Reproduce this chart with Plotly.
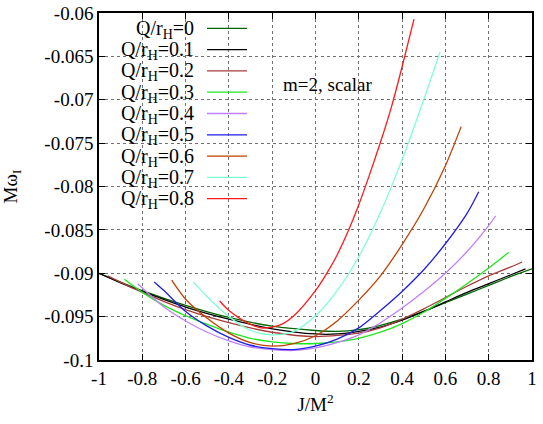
import plotly.graph_objects as go

# ---- data ----
labels = ["0", "0.1", "0.2", "0.3", "0.4", "0.5", "0.6", "0.7", "0.8"]
colors = ["#006400", "#000000", "#a83c3c", "#1ee61e", "#c080ff",
          "#1e1ee6", "#c04000", "#7fffd4", "#ff1a1a"]

x_q00 = [-1, -0.8, -0.6, -0.4, -0.2, 0, 0.1, 0.2, 0.3, 0.4, 0.5, 0.6, 0.7, 0.8, 0.9, 1.0]
y_q00 = [-0.0900, -0.0920, -0.0937, -0.0951, -0.0961, -0.0966, -0.0967, -0.0965, -0.0960, -0.0953,
         -0.0944, -0.0934, -0.0924, -0.0914, -0.0904, -0.0895]

x_q01 = [-1, -0.9, -0.8, -0.6, -0.4, -0.2, 0, 0.1, 0.2, 0.3, 0.4, 0.5, 0.6, 0.7, 0.8, 0.9, 0.97]
y_q01 = [-0.0900, -0.0911, -0.0921, -0.0939, -0.0953, -0.0964, -0.0970, -0.0970, -0.0967, -0.0962,
         -0.0954, -0.0944, -0.0933, -0.0922, -0.0912, -0.0902, -0.0895]

x_q02 = [-0.96, -0.8, -0.6, -0.4, -0.2, 0, 0.2, 0.3, 0.4, 0.5, 0.6, 0.7, 0.8, 0.9, 0.954]
y_q02 = [-0.0903, -0.0922, -0.0942, -0.0957, -0.0968, -0.0973, -0.0969, -0.0963, -0.0953, -0.0941,
         -0.0928, -0.0915, -0.0903, -0.0893, -0.0887]

x_q03 = [-0.883, -0.8, -0.7, -0.6, -0.5, -0.4, -0.3, -0.2, -0.1, 0, 0.1, 0.2, 0.3, 0.4, 0.5, 0.6,
         0.7, 0.8, 0.892]
y_q03 = [-0.0907, -0.0922, -0.0937, -0.0949, -0.0959, -0.0968, -0.0975, -0.0979, -0.0981, -0.0981,
         -0.0979, -0.0975, -0.0968, -0.0958, -0.0945, -0.0929, -0.0912, -0.0894, -0.0876]

x_q04 = [-0.821, -0.8, -0.7, -0.6, -0.5, -0.4, -0.3, -0.2, -0.1, 0, 0.1, 0.2, 0.3, 0.4, 0.5, 0.6,
         0.7, 0.8, 0.832]
y_q04 = [-0.0912, -0.0917, -0.0939, -0.0955, -0.0968, -0.0978, -0.0985, -0.0988, -0.0989, -0.0986,
         -0.0980, -0.0971, -0.0957, -0.0940, -0.0921, -0.0900, -0.0875, -0.0845, -0.0834]

x_q05 = [-0.745, -0.7, -0.6, -0.5, -0.4, -0.3, -0.2, -0.1, 0, 0.1, 0.2, 0.3, 0.4, 0.5, 0.6, 0.7, 0.754]
y_q05 = [-0.0910, -0.0920, -0.0944, -0.0961, -0.0974, -0.0983, -0.0987, -0.0988, -0.0984, -0.0976,
         -0.0963, -0.0943, -0.0921, -0.0896, -0.0866, -0.0831, -0.0806]

x_q06 = [-0.664, -0.6, -0.5, -0.4, -0.3, -0.2, -0.1, 0, 0.1, 0.2, 0.3, 0.4, 0.5, 0.6, 0.673]
y_q06 = [-0.0908, -0.0930, -0.0952, -0.0969, -0.0980, -0.0984, -0.0981, -0.0972, -0.0955, -0.0931,
         -0.0903, -0.0867, -0.0826, -0.0776, -0.0731]

x_q07 = [-0.565, -0.5, -0.4, -0.3, -0.2, -0.1, 0, 0.1, 0.2, 0.3, 0.4, 0.5, 0.575]
y_q07 = [-0.0910, -0.0927, -0.0950, -0.0966, -0.0971, -0.0967, -0.0949, -0.0920, -0.0881, -0.0830,
         -0.0769, -0.0700, -0.0645]

x_q08 = [-0.443, -0.4, -0.35, -0.3, -0.25, -0.2, -0.15, -0.1, 0, 0.05, 0.1, 0.15, 0.2, 0.25, 0.3,
         0.35, 0.4, 0.455]
y_q08 = [-0.0932, -0.0943, -0.0952, -0.0959, -0.0963, -0.0962, -0.0958, -0.0949, -0.0920, -0.0901,
         -0.0879, -0.0852, -0.0821, -0.0786, -0.0749, -0.0709, -0.0662, -0.0607]

xs = [x_q00, x_q01, x_q02, x_q03, x_q04, x_q05, x_q06, x_q07, x_q08]
ys = [y_q00, y_q01, y_q02, y_q03, y_q04, y_q05, y_q06, y_q07, y_q08]

x_ticks = [-1, -0.8, -0.6, -0.4, -0.2, 0, 0.2, 0.4, 0.6, 0.8, 1]
x_ticktext = ["-1", "-0.8", "-0.6", "-0.4", "-0.2", "0", "0.2", "0.4", "0.6", "0.8", "1"]
y_ticks = [-0.1, -0.095, -0.09, -0.085, -0.08, -0.075, -0.07, -0.065, -0.06]
y_ticktext = ["-0.1", "-0.095", "-0.09", "-0.085", "-0.08", "-0.075", "-0.07", "-0.065", "-0.06"]

FONT = "Liberation Serif"
FS = 19
fig = go.Figure()
for x, y, c, lab in zip(xs, ys, colors, labels):
    fig.add_trace(go.Scatter(x=x, y=y, mode="lines",
                             line=dict(color=c, width=1.3, shape="spline", smoothing=0.8),
                             name="Q/r<sub>H</sub>=" + lab, showlegend=False))

# gnuplot-style legend: right-aligned text followed by a line sample
ML, MR, MT, MB = 99, 11, 13, 64
W, H = 543, 424
pw, ph = W - ML - MR, H - MT - MB
def px2x(p): return (p - ML) / pw
def py2y(p): return (H - MB - p) / ph
shapes = []
annotations = []
for i, (c, lab) in enumerate(zip(colors, labels)):
    py = 28.3 + 21.3 * i
    annotations.append(dict(x=px2x(196), y=py2y(py + 1), xref="paper", yref="paper",
                            text="Q/r<sub>H</sub>=" + lab, showarrow=False, xanchor="right",
                            yanchor="middle", font=dict(family=FONT, size=FS + 1, color="black")))
    shapes.append(dict(type="line", xref="paper", yref="paper", x0=px2x(207), x1=px2x(247),
                       y0=py2y(py), y1=py2y(py), line=dict(color=c, width=1.3)))
annotations.append(dict(x=px2x(281), y=py2y(84), xref="paper", yref="paper", text="m=2, scalar",
                        showarrow=False, xanchor="left", yanchor="middle",
                        font=dict(family=FONT, size=FS, color="black")))

axis_common = dict(showline=True, linecolor="black", linewidth=1.5, mirror="ticks",
                   ticks="inside", ticklen=6, tickwidth=1, tickcolor="black",
                   showgrid=True, gridcolor="#707070", griddash="dot", gridwidth=1,
                   zeroline=False, ticklabeloverflow="allow",
                   tickfont=dict(family=FONT, size=FS, color="black"))
fig.update_xaxes(range=[-1, 1], tickvals=x_ticks, ticktext=x_ticktext,
                 title=dict(text="J/M<sup>2</sup>", font=dict(family=FONT, size=FS, color="black"), standoff=10),
                 **axis_common)
fig.update_yaxes(range=[-0.1, -0.06], tickvals=y_ticks, ticktext=y_ticktext,
                 title=dict(text="Mω<sub>I</sub>", font=dict(family=FONT, size=FS, color="black"), standoff=24),
                 **axis_common)
fig.update_layout(width=W, height=H, margin=dict(l=ML, r=MR, t=MT, b=MB, autoexpand=False),
                  plot_bgcolor="white", paper_bgcolor="white", shapes=shapes, annotations=annotations,
                  font=dict(family=FONT, size=FS, color="black"))
fig.write_html("out.html", config={"displayModeBar": False},
               post_script="document.body.style.margin='0';")
